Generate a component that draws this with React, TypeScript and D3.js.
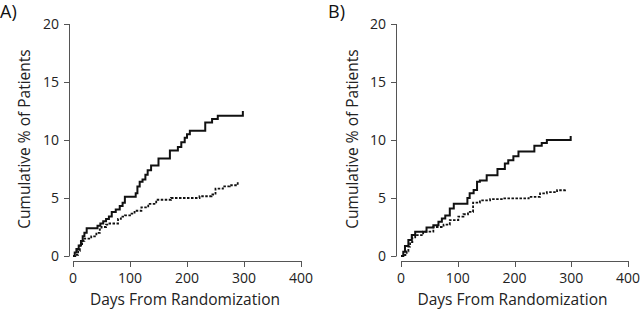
import React from "react";
import * as d3 from "d3";

const xTicks = [0, 100, 200, 300, 400];
const yTicks = [0, 5, 10, 15, 20];

const daysASolid = [0, 3, 6, 10, 14, 17, 20, 24, 43, 48, 53, 58, 63, 68, 75, 82, 87, 91, 110, 113, 117, 122, 127, 131, 137, 150, 170, 184, 190, 196, 200, 205, 232, 244, 254, 298];
const pctASolid = [0, 0.3, 0.6, 0.9, 1.3, 1.7, 2.0, 2.4, 2.6, 2.8, 3.0, 3.2, 3.4, 3.8, 4.0, 4.3, 4.6, 5.1, 5.4, 6.0, 6.4, 6.6, 7.0, 7.4, 7.8, 8.4, 9.1, 9.4, 9.8, 10.2, 10.5, 10.8, 11.5, 11.8, 12.1, 12.5];

const daysADash = [0, 4, 9, 12, 16, 20, 32, 41, 47, 50, 58, 64, 79, 84, 91, 100, 108, 120, 132, 146, 172, 222, 243, 250, 263, 275, 289];
const pctADash = [0, 0.1, 0.45, 0.9, 1.3, 1.5, 1.7, 2.0, 2.3, 2.5, 2.7, 2.8, 3.2, 3.4, 3.5, 3.65, 3.9, 4.2, 4.5, 4.85, 5.0, 5.15, 5.3, 5.8, 6.0, 6.1, 6.35];

const daysBSolid = [0, 4, 7, 13, 19, 25, 45, 57, 66, 72, 78, 86, 93, 117, 121, 128, 134, 139, 151, 170, 183, 189, 198, 207, 235, 248, 257, 299];
const pctBSolid = [0, 0.37, 0.86, 1.38, 1.8, 2.1, 2.46, 2.66, 2.95, 3.24, 3.5, 4.1, 4.5, 5.0, 5.4, 5.7, 6.4, 6.5, 6.96, 7.5, 7.97, 8.25, 8.6, 9.0, 9.5, 9.74, 10.0, 10.35];

const daysBDash = [0, 7, 10, 13, 16, 20, 25, 39, 57, 75, 86, 101, 110, 118, 127, 139, 157, 180, 225, 245, 257, 275, 289];
const pctBDash = [0, 0.1, 0.4, 0.8, 1.2, 1.6, 1.8, 2.1, 2.5, 2.7, 3.1, 3.4, 3.6, 3.8, 4.6, 4.8, 4.9, 4.96, 5.1, 5.4, 5.5, 5.67, 5.8];

const panelLabels = ["A)", "B)"];

const FONT = "'Open Sans', 'DejaVu Sans', sans-serif";

type PanelProps = {
  x0: number;
  x1: number;
  axisX: number;
  label: string;
  labelX: number;
  yTitleX: number;
  solidDays: number[];
  solidPct: number[];
  dashDays: number[];
  dashPct: number[];
};

function Panel(p: PanelProps) {
  const x = d3.scaleLinear().domain([0, 400]).range([p.x0, p.x1]);
  const y = d3.scaleLinear().domain([0, 20]).range([256, 24]);
  const axisY = 261;
  const line = d3
    .line<[number, number]>()
    .x((d) => x(d[0]))
    .y((d) => y(d[1]))
    .curve(d3.curveStepAfter);
  const solid = p.solidDays.map((d, i) => [d, p.solidPct[i]] as [number, number]);
  const dash = p.dashDays.map((d, i) => [d, p.dashPct[i]] as [number, number]);
  const axisColor = "#555";
  return (
    <g>
      <text x={p.labelX} y={18} fontSize={18} fontFamily={FONT} fill="#111">
        {p.label}
      </text>
      <line x1={p.axisX + 0.5} x2={p.axisX + 0.5} y1={y(20)} y2={y(0)} stroke={axisColor} strokeWidth={1} />
      {yTicks.map((t) => (
        <g key={"y" + t}>
          <line x1={p.axisX - 5} x2={p.axisX + 0.5} y1={Math.round(y(t)) + 0.5} y2={Math.round(y(t)) + 0.5} stroke={axisColor} />
          <text x={p.axisX - 10} y={y(t)} dy="0.35em" textAnchor="end" fontSize={14} fontFamily={FONT} fill="#222">
            {t}
          </text>
        </g>
      ))}
      <line x1={x(0)} x2={x(400)} y1={axisY + 0.5} y2={axisY + 0.5} stroke={axisColor} />
      {xTicks.map((t) => (
        <g key={"x" + t}>
          <line x1={Math.round(x(t)) + 0.5} x2={Math.round(x(t)) + 0.5} y1={axisY} y2={axisY + 6} stroke={axisColor} />
          <text x={x(t)} y={axisY + 17} dy="0.35em" textAnchor="middle" fontSize={14} fontFamily={FONT} fill="#222">
            {t}
          </text>
        </g>
      ))}
      <text x={(p.x0 + p.x1) / 2 - 2} y={305} textAnchor="middle" fontSize={15.5} fontFamily={FONT} fill="#222">
        Days From Randomization
      </text>
      <text
        transform={`translate(${p.yTitleX},${139}) rotate(-90)`}
        textAnchor="middle"
        dy="0.35em"
        fontSize={15.5}
        fontFamily={FONT}
        fill="#222"
      >
        Cumulative % of Patients
      </text>
      <path d={line(dash) || ""} fill="none" stroke="#111" strokeWidth={1.8} strokeDasharray="2.5 1.5" />
      <path d={line(solid) || ""} fill="none" stroke="#111" strokeWidth={2} />
    </g>
  );
}

export default function App() {
  return (
    <svg width={640} height={310} style={{ position: "absolute", left: 0, top: 0, background: "#fff" }}>
      <rect width={640} height={310} fill="#fff" />
      <Panel
        x0={73}
        x1={301}
        axisX={69}
        label={panelLabels[0]}
        labelX={0}
        yTitleX={25}
        solidDays={daysASolid}
        solidPct={pctASolid}
        dashDays={daysADash}
        dashPct={pctADash}
      />
      <Panel
        x0={401}
        x1={628}
        axisX={396}
        label={panelLabels[1]}
        labelX={328}
        yTitleX={353}
        solidDays={daysBSolid}
        solidPct={pctBSolid}
        dashDays={daysBDash}
        dashPct={pctBDash}
      />
    </svg>
  );
}
